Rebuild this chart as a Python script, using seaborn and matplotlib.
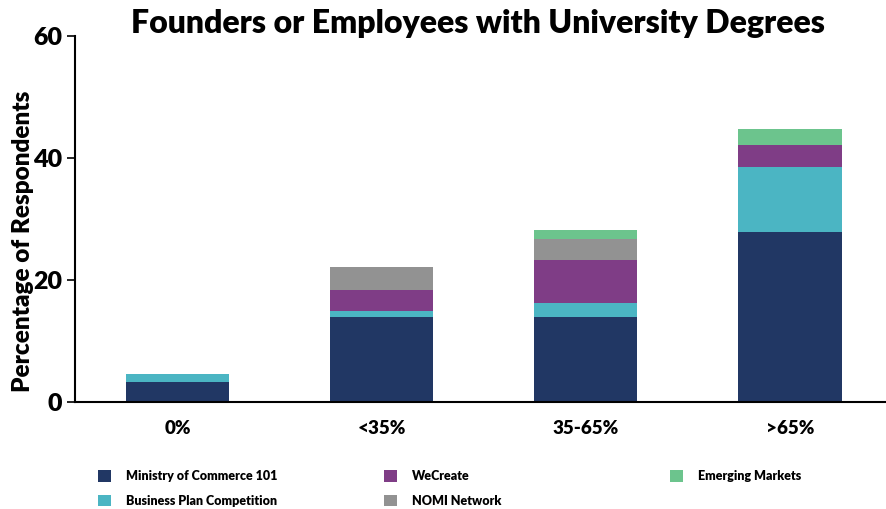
import matplotlib
matplotlib.use("Agg")
import matplotlib.pyplot as plt
from matplotlib.patches import Patch
import numpy as np
import pandas as pd
import seaborn as sns

sns.set_theme(style="white")
plt.rcParams["font.family"] = ["Lato", "DejaVu Sans"]

categories = ["0%", "<35%", "35-65%", ">65%"]
ministry = [3.3, 13.9, 13.9, 27.9]
business_plan = [1.3, 1.1, 2.3, 10.7]
wecreate = [0.0, 3.4, 7.0, 3.6]
nomi = [0.0, 3.8, 3.6, 0.0]
emerging = [0.0, 0.0, 1.4, 2.6]

series_names = ["Ministry of Commerce 101", "Business Plan Competition",
                "WeCreate", "NOMI Network", "Emerging Markets"]
series_values = [ministry, business_plan, wecreate, nomi, emerging]
colors = ["#213764", "#4bb5c3", "#7f3d86", "#929292", "#6cc48d"]

W = "heavy"

df = pd.DataFrame({"category": categories})
for name, vals in zip(series_names, series_values):
    df[name] = vals

fig = plt.figure(figsize=(8.86, 5.09), dpi=100)
ax = fig.add_axes([75 / 886, 1 - 402 / 509, 1 - 75 / 886, (402 - 36) / 509])

bottom = np.zeros(len(categories))
for name, color in zip(series_names, colors):
    sns.barplot(data=df, x="category", y=name, color=color, bottom=bottom,
                width=0.505, ax=ax, saturation=1, linewidth=0)
    bottom = bottom + df[name].to_numpy()

ax.set_xlim(-0.502, 3.47)
ax.set_ylim(0, 60)
ax.set_yticks([0, 20, 40, 60])
for side in ["top", "right"]:
    ax.spines[side].set_visible(False)
ax.spines["left"].set_color("black")
ax.spines["bottom"].set_color("black")
ax.spines["left"].set_linewidth(1.5)
ax.spines["bottom"].set_linewidth(1.5)
ax.tick_params(axis="y", left=True, length=6, width=1.2, color="black",
               labelsize=18, pad=3, labelcolor="black")
ax.tick_params(axis="x", bottom=False, labelsize=13.5, pad=7, labelcolor="black")
for lab in ax.get_yticklabels():
    lab.set_fontweight(W)
for lab in ax.get_xticklabels():
    lab.set_fontweight(W)
ax.set_xlabel("")
ax.set_ylabel("Percentage of Respondents", fontsize=17.5, fontweight=W,
              color="black")
ax.yaxis.set_label_coords(-0.051, 0.44)

fig.text(478 / 886, 1 - 23 / 509, "Founders or Employees with University Degrees",
         ha="center", va="center", fontsize=23, fontweight=W, color="black")

# legend laid out as three separate columns
legend_columns = [[0, 1], [2, 3], [4]]
column_x = [87, 373, 659]
for idx, x0 in zip(legend_columns, column_x):
    handles = [Patch(facecolor=colors[i], edgecolor="none") for i in idx]
    labels = [series_names[i] for i in idx]
    fig.legend(handles, labels, ncol=1, loc="upper left",
               bbox_to_anchor=(x0 / 886, 1 - 459 / 509), frameon=False,
               prop={"size": 9, "weight": W}, handlelength=1.0,
               handleheight=1.0, labelspacing=1.0,
               handletextpad=1.2, labelcolor="black")

fig.savefig("out.png", dpi=100)
